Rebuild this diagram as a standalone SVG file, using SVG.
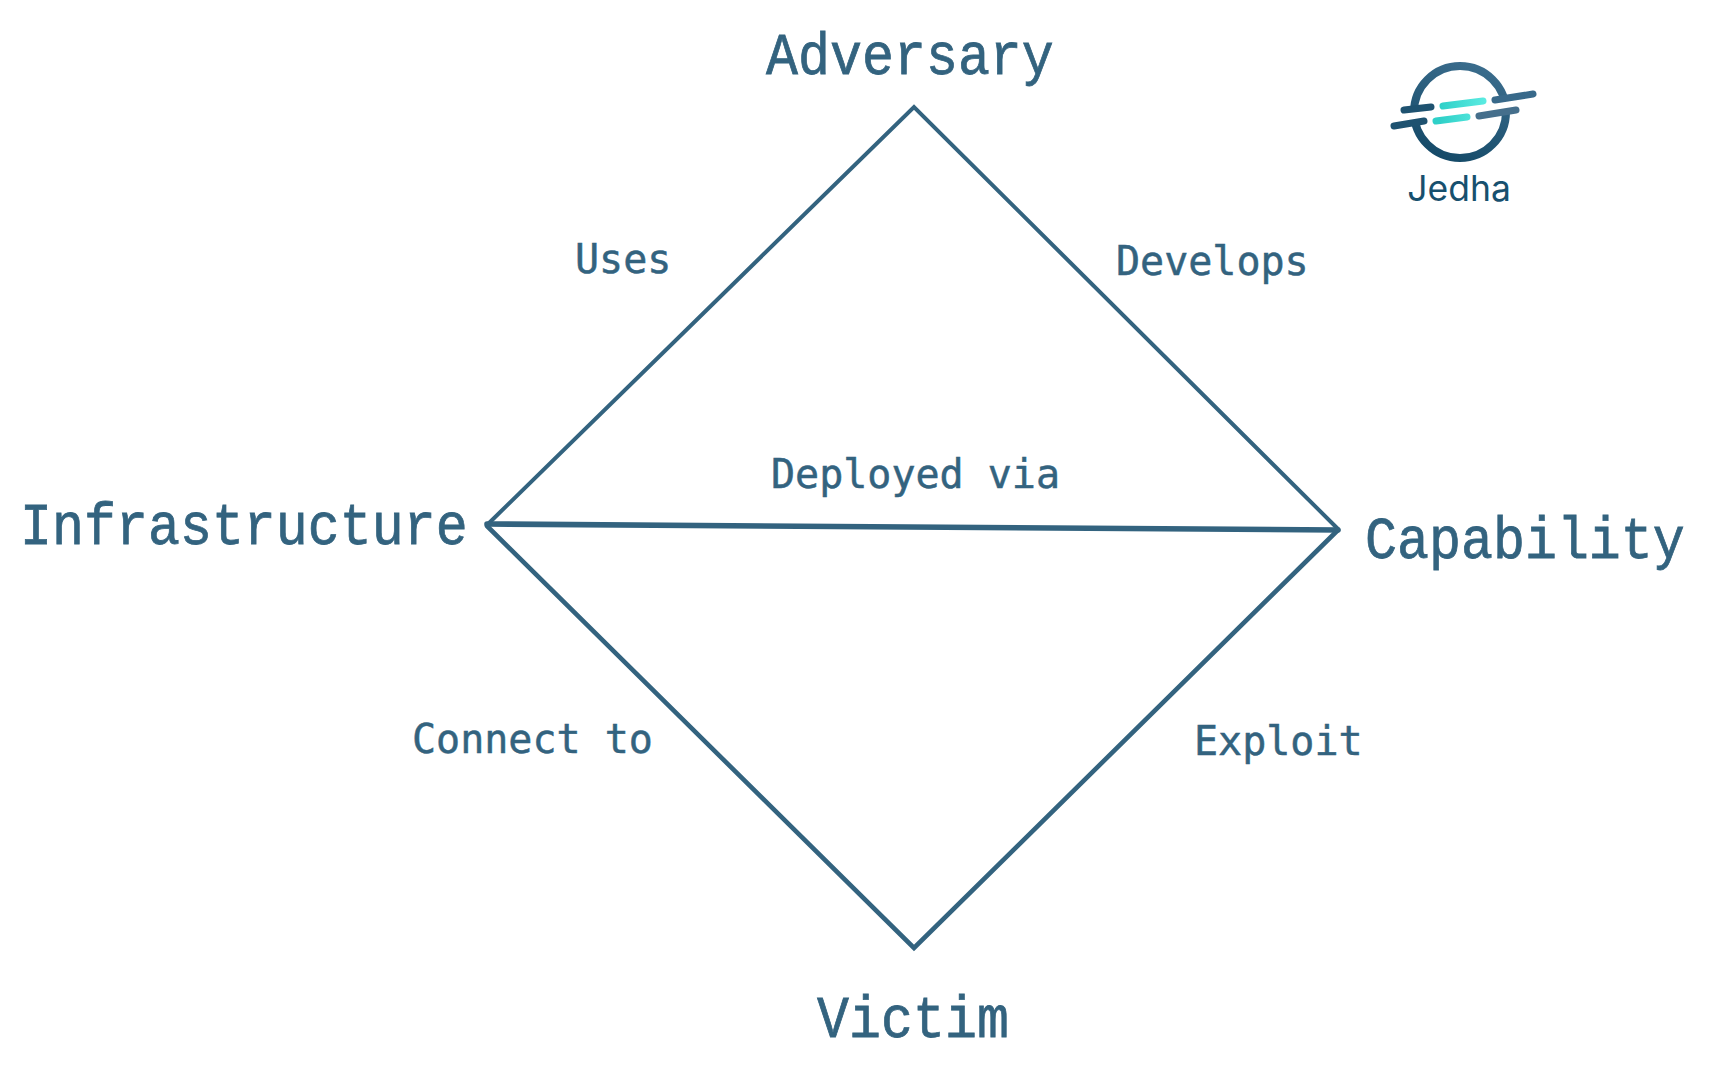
<svg xmlns="http://www.w3.org/2000/svg" width="1731" height="1069" viewBox="0 0 1731 1069">
<style>
.t{font-family:"Liberation Mono","DejaVu Sans Mono",monospace;fill:#33637f;stroke:#33637f}
.b{font-size:53.3px;stroke-width:.7px}
.s{font-family:"DejaVu Sans Mono","Liberation Mono",monospace;font-size:40px;stroke-width:.5px}
.c{fill:none;stroke:#33637f;stroke-width:4;stroke-linejoin:miter;stroke-linecap:round}
.lg{fill:none;stroke-linecap:round;stroke-width:7}
</style>
<defs>
<linearGradient id="g1" x1="0.7" y1="0" x2="0.3" y2="1"><stop offset="0" stop-color="#3a6c8c"/><stop offset="1" stop-color="#154a68"/></linearGradient>
<linearGradient id="g2" gradientUnits="userSpaceOnUse" x1="1440" y1="100" x2="1490" y2="100"><stop offset="0" stop-color="#2fd0c8"/><stop offset="1" stop-color="#5feee4"/></linearGradient>
</defs>
<rect width="1731" height="1069" fill="#ffffff"/>
<g id="connectors">
<path class="c" d="M487 525L914 107L1338 529"/>
<path class="c" d="M487 526L914 948L1338 530" style="stroke-width:4.6"/>
<path class="c" d="M487 524L1338 530" style="stroke-width:5.6"/>
</g>
<g id="adversary"><text class="t b" transform="translate(766 74) scale(1 1.12)">Adversary</text></g>
<g id="infrastructure"><text class="t b" transform="translate(20 544) scale(1 1.12)">Infrastructure</text></g>
<g id="capability"><text class="t b" transform="translate(1365 558) scale(1 1.12)">Capability</text></g>
<g id="victim"><text class="t b" transform="translate(817 1037) scale(1 1.12)">Victim</text></g>
<g id="uses"><text class="t s" x="575" y="273">Uses</text></g>
<g id="develops"><text class="t s" x="1116" y="275">Develops</text></g>
<g id="deployed"><text class="t s" x="771" y="488">Deployed via</text></g>
<g id="connect"><text class="t s" x="412" y="753">Connect to</text></g>
<g id="exploit"><text class="t s" x="1194" y="755">Exploit</text></g>
<g id="logo">
<circle cx="1460" cy="112" r="46" fill="none" stroke="url(#g1)" stroke-width="8"/>
<polygon points="1400,111 1427,108 1427,122 1400,126" fill="#fff"/>
<polygon points="1490,102 1524,97 1524,110 1490,115" fill="#fff"/>
<path class="lg" d="M1404 110L1431 107" stroke="#1e5270"/>
<path class="lg" d="M1394 126L1424 121" stroke="#1e5270"/>
<path class="lg" d="M1495 100L1533 94" stroke="#38698a"/>
<path class="lg" d="M1479 116L1516 110" stroke="#456f8c"/>
<path class="lg" d="M1443 106L1483 101" stroke="url(#g2)"/>
<path class="lg" d="M1436 121L1467 117" stroke="url(#g2)"/>
<text x="1459" y="201" text-anchor="middle" font-family="Inter,'Noto Sans',sans-serif" font-size="35.5" fill="#17506e">Jedha</text>
</g>
</svg>
